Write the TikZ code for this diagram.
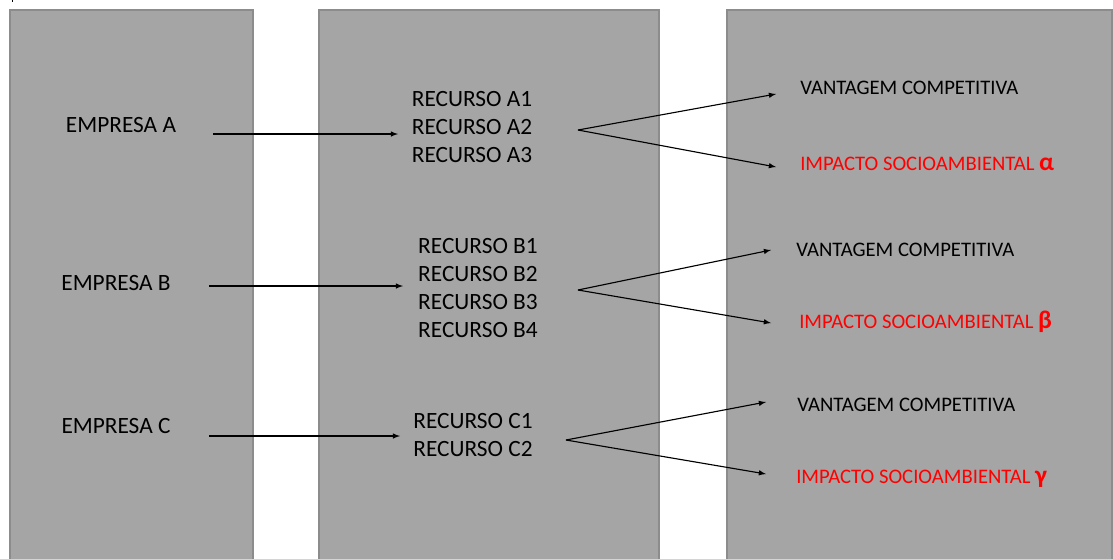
\documentclass[tikz,border=0pt]{standalone}
\usepackage{fontspec}
\setmainfont{Carlito}
\usetikzlibrary{positioning,arrows}

\definecolor{panelgray}{HTML}{A5A5A5}
\definecolor{panelline}{HTML}{8C8C8C}
\definecolor{impred}{HTML}{FF0000}

\begin{document}
\begin{tikzpicture}[x=0.75pt,y=-0.75pt,
        panel/.style={fill=panelgray, draw=panelline, line width=0.8pt},
        firm/.style={font=\fontsize{17.5}{21}\selectfont, inner sep=0pt},
        res/.style={font=\fontsize{17.5}{21}\selectfont, align=center, inner sep=0pt},
        result/.style={font=\fontsize{15.5}{18}\selectfont, anchor=west, inner sep=0pt},
        impact/.style={result, text=impred},
        link/.style={-latex, line width=0.85pt}]

        \useasboundingbox (0,0) rectangle (1113,558);

        % panels
        \draw[panel] (10,10) rectangle (253,570);
        \draw[panel] (319,10) rectangle (659,570);
        \draw[panel] (727,10) rectangle (1112,570);
        \draw[line width=0.6pt] (12,0) -- (12,2);

        % empresas
        \node[firm] (empA) at (121,125) {EMPRESA A};
        \node[firm] (empB) at (116,283) {EMPRESA B};
        \node[firm] (empC) at (116,426) {EMPRESA C};

        % recursos
        \node[res] (recA) at (472,127) {RECURSO A1\\RECURSO A2\\RECURSO A3};
        \node[res] (recB) at (478,288) {RECURSO B1\\RECURSO B2\\RECURSO B3\\RECURSO B4};
        \node[res] (recC) at (473,435) {RECURSO C1\\RECURSO C2};

        % resultados
        \node[result] (vanA) at (800,88) {VANTAGEM COMPETITIVA};
        \node[impact] (impA) at (800,164) {IMPACTO SOCIOAMBIENTAL \textbf{\fontsize{19}{19}\selectfont α}};
        \node[result] (vanB) at (796,250) {VANTAGEM COMPETITIVA};
        \node[impact] (impB) at (799,322) {IMPACTO SOCIOAMBIENTAL \textbf{\fontsize{19}{19}\selectfont β}};
        \node[result] (vanC) at (797,405) {VANTAGEM COMPETITIVA};
        \node[impact] (impC) at (796,479) {IMPACTO SOCIOAMBIENTAL \textbf{\fontsize{19}{19}\selectfont γ}};

        % arrow ends
        \coordinate (fromA) at (213,134);
        \coordinate (toA) at (398,134);
        \coordinate (fromB) at (209,286);
        \coordinate (toB) at (403,286);
        \coordinate (fromC) at (209,436);
        \coordinate (toC) at (400,436);

        \coordinate (forkA) at (578,130);
        \coordinate (forkB) at (578,290);
        \coordinate (forkC) at (566,440);
        \coordinate (vanAend) at (776,94);
        \coordinate (impAend) at (776,167);
        \coordinate (vanBend) at (771,250);
        \coordinate (impBend) at (771,323);
        \coordinate (vanCend) at (766,402);
        \coordinate (impCend) at (766,474);

        \draw[link] (fromA) -- (toA);
        \draw[link] (fromB) -- (toB);
        \draw[link] (fromC) -- (toC);

        \draw[link] (forkA) -- (vanAend);
        \draw[link] (forkA) -- (impAend);
        \draw[link] (forkB) -- (vanBend);
        \draw[link] (forkB) -- (impBend);
        \draw[link] (forkC) -- (vanCend);
        \draw[link] (forkC) -- (impCend);

\end{tikzpicture}
\end{document}
